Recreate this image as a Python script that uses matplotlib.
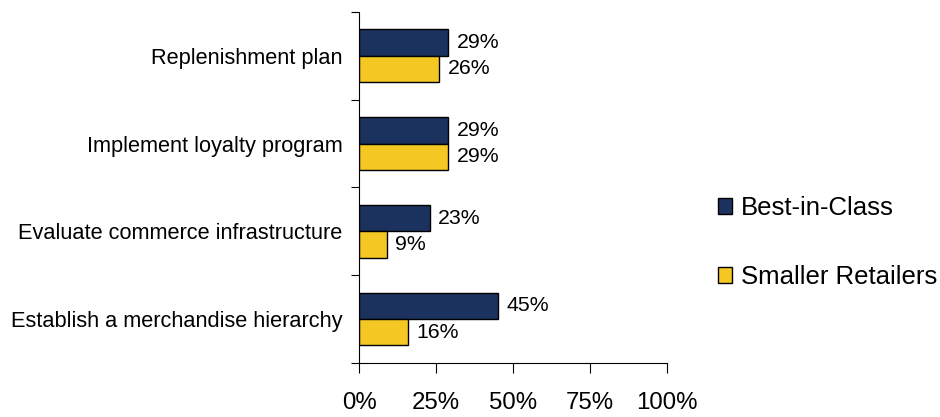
import numpy as np
import matplotlib.pyplot as plt
from matplotlib.ticker import FixedLocator, NullFormatter
from matplotlib.patches import Patch

plt.rcParams['font.family'] = ['Liberation Sans', 'DejaVu Sans']

categories = ['Replenishment plan', 'Implement loyalty program',
              'Evaluate commerce infrastructure', 'Establish a merchandise hierarchy']
best_in_class = [29, 29, 23, 45]
smaller_retailers = [26, 29, 9, 16]
series_names = ['Best-in-Class', 'Smaller Retailers']
x_ticks = [0, 25, 50, 75, 100]

navy = '#1c325e'
gold = '#f5c723'

fig = plt.figure(figsize=(9.4, 4.17), dpi=100)
ax = fig.add_axes([0.382, 0.1295, 0.3277, 0.842])

n = len(categories)
y = np.arange(n)[::-1] + 0.5   # top category first
h = 0.3

ax.barh(y + h / 2, best_in_class, height=h, color=navy, edgecolor='black', linewidth=1)
ax.barh(y - h / 2, smaller_retailers, height=h, color=gold, edgecolor='black', linewidth=1)

for yi, b, s in zip(y, best_in_class, smaller_retailers):
    ax.annotate(f'{b}%', (b, yi + h / 2), xytext=(6, 0), textcoords='offset points',
                va='center', ha='left', fontsize=15.3)
    ax.annotate(f'{s}%', (s, yi - h / 2), xytext=(6, 0), textcoords='offset points',
                va='center', ha='left', fontsize=15.3)

ax.set_xlim(0, 100)
ax.set_ylim(0, n)
ax.set_xticks(x_ticks)
ax.set_xticklabels([f'{t}%' for t in x_ticks], fontsize=17.3)
ax.tick_params(axis='x', length=7, direction='out', pad=14)

ax.yaxis.set_major_locator(FixedLocator(np.arange(n + 1)))
ax.yaxis.set_major_formatter(NullFormatter())
ax.yaxis.set_minor_locator(FixedLocator(y))
ax.set_yticklabels(categories, minor=True, fontsize=15.7)
ax.tick_params(axis='y', which='major', length=6, direction='out')
ax.tick_params(axis='y', which='minor', length=0, pad=12)

for side in ['top', 'right']:
    ax.spines[side].set_visible(False)

handles = [Patch(facecolor=navy, edgecolor='black'), Patch(facecolor=gold, edgecolor='black')]
fig.legend(handles, series_names, loc='center left', bbox_to_anchor=(0.764, 0.418),
           frameon=False, fontsize=18.5, handlelength=0.55, handleheight=0.55,
           handletextpad=0.32, labelspacing=1.75, borderpad=0, borderaxespad=0)

fig.savefig('out.png', dpi=100)
